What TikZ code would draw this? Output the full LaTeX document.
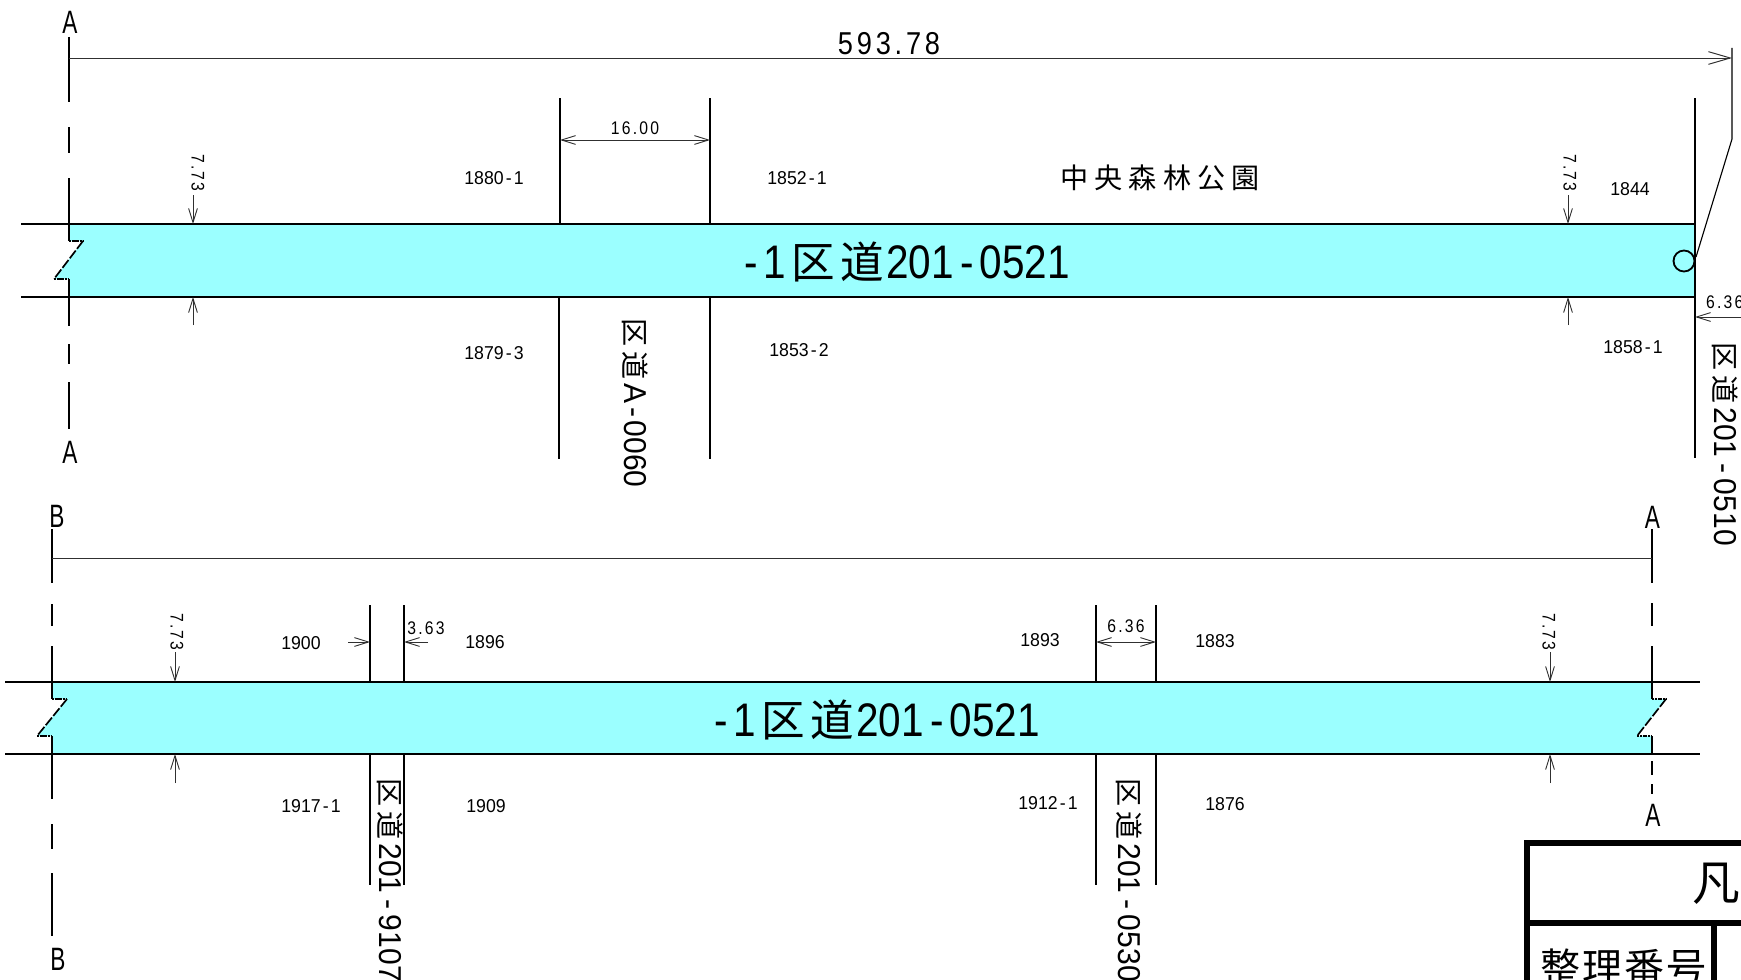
\documentclass[tikz,border=0pt]{standalone}
\usepackage{fontspec}
\usetikzlibrary{arrows.meta}
\setmainfont{Liberation Sans}
\newfontfamily\dg[FakeStretch=.86]{Liberation Sans}
\newfontfamily\dgn[FakeStretch=.95]{Liberation Sans}
\newfontfamily\dgs[FakeStretch=.86,LetterSpace=12]{Liberation Sans}
\newfontfamily\narrow[FakeStretch=.7]{Liberation Sans}
\newfontfamily\cj{Noto Sans CJK JP}
\newfontfamily\cjs[LetterSpace=22]{Noto Sans CJK JP}
\definecolor{road}{HTML}{9BFFFF}
\definecolor{dimc}{HTML}{303030}
\newcommand\hy{\kern3pt-\kern3pt}
\newcommand\roadlabel[1]{{\fontsize{67}{67}\selectfont\dg -\kern9pt 1\kern7pt{\fontsize{62}{62}\selectfont\cj 区\kern8pt 道}\kern3pt #1}}
\newcommand\sidelabel[2]{{\fontsize{45}{45}\selectfont\dgn{\fontsize{40}{40}\selectfont\cj 区\kern7pt 道}\kern6pt #1\kern8pt-\kern8pt #2}}
\tikzset{
  x=0.05cm,y=-0.05cm,
  bandedge/.style={line width=2.8pt,black},
  post/.style={line width=2.9pt,black},
  dimline/.style={line width=1.4pt,dimc},
  tipsmall/.style={arrows={-{Straight Barb[length=20pt,width=12.5pt,line width=1.3pt]}}},
  tipboth/.style={arrows={{Straight Barb[length=20pt,width=12.5pt,line width=1.3pt]}-{Straight Barb[length=20pt,width=12.5pt,line width=1.3pt]}}},
  tipbig/.style={arrows={-{Straight Barb[length=31pt,width=18pt,line width=1.4pt]}}},
  small/.style={inner sep=0pt,font=\fontsize{26.5}{26.5}\selectfont\dgn},
  dimtext/.style={inner sep=0pt,font=\fontsize{26}{26}\selectfont\dgs},
  dimtextv/.style={inner sep=0pt,rotate=-90,font=\fontsize{26}{26}\selectfont\dgs},
  section/.style={inner sep=0pt,font=\fontsize{46}{46}\selectfont\narrow},
  sidetext/.style={inner sep=0pt,rotate=-90},
  title/.style={line width=8pt,black}
}
\begin{document}
\begin{tikzpicture}
\useasboundingbox (0,0) rectangle (1741,980);
\clip (0,0) rectangle (1741,980);
\fill[white] (0,0) rectangle (1741,980);
% bands
\fill[road] (69,224)--(69,241)--(83,241)--(54,279)--(69,279)--(69,297)--(1695,297)--(1695,224)--cycle;
\fill[road] (52,682)--(52,699)--(67,699)--(37,736)--(52,736)--(52,754)--(1652,754)--(1652,736)--(1637,736)--(1666,699)--(1652,699)--(1652,682)--cycle;
\draw[bandedge] (21,224)--(1695,224);
\draw[bandedge] (21,297)--(1695,297);
\draw[bandedge] (5,682)--(1700,682);
\draw[bandedge] (5,754)--(1700,754);
% notches
\draw[post] (69,224)--(69,241);
\draw[post] (69,279)--(69,297);
\draw[post,densely dotted,line width=2.4pt] (69,241)--(83,241);
\draw[post,dash pattern=on 14pt off 3pt,line width=2.4pt] (83,241)--(54,279);
\draw[post,densely dotted,line width=2.4pt] (54,279)--(69,279);
\draw[post] (52,682)--(52,699);
\draw[post] (52,736)--(52,754);
\draw[post,densely dotted,line width=2.4pt] (52,699)--(67,699);
\draw[post,dash pattern=on 14pt off 3pt,line width=2.4pt] (67,699)--(37,736);
\draw[post,densely dotted,line width=2.4pt] (37,736)--(52,736);
\draw[post] (1652,682)--(1652,699);
\draw[post] (1652,736)--(1652,754);
\draw[post,densely dotted,line width=2.4pt] (1652,699)--(1666,699);
\draw[post,dash pattern=on 14pt off 3pt,line width=2.4pt] (1666,699)--(1637,736);
\draw[post,densely dotted,line width=2.4pt] (1637,736)--(1652,736);
% section line A top band
\draw[post] (69,37)--(69,102) (69,127)--(69,153) (69,178)--(69,224) (69,297)--(69,326) (69,344)--(69,364) (69,382)--(69,429);
% section lines lower band
\draw[post] (52,529)--(52,583) (52,604)--(52,626) (52,646)--(52,682) (52,754)--(52,799) (52,824)--(52,849) (52,873)--(52,936);
\draw[post] (1652,529)--(1652,583) (1652,603)--(1652,626) (1652,646)--(1652,682) (1652,761)--(1652,775) (1652,784)--(1652,794);
% cross road posts
\draw[post] (560,98)--(560,224) (710,98)--(710,224) (559,296)--(559,459) (710,296)--(710,459);
\draw[post] (1695,98)--(1695,458);
\draw[post] (370,605)--(370,682) (404,605)--(404,682) (370,754)--(370,885) (404,754)--(404,885);
\draw[post] (1096,605)--(1096,682) (1156,605)--(1156,682) (1096,754)--(1096,885) (1156,754)--(1156,885);
% leader and circle
\draw[post,line width=2.6pt] (1684,261) circle (10.5);
\draw[line width=1.6pt,black] (1732,48)--(1732,139)--(1696,257);
% dimensions
\draw[dimline,tipbig] (69,58)--(1732,58);
\draw[dimline] (52,558)--(1652,558);
\draw[dimline,tipboth] (560,140)--(710,140);
\draw[dimline,tipboth] (1096,642)--(1156,642);
\draw[dimline,tipsmall] (348,642)--(370,642);
\draw[dimline,tipsmall] (428,642)--(404,642);
\draw[dimline,tipsmall] (1741,317)--(1695,317);
\foreach \xa/\ya/\yb in {193/195/224,1568/195/224,175/652/682,1550/652/682}
  \draw[dimline,tipsmall] (\xa,\ya)--(\xa,\yb);
\foreach \xa/\ya/\yb in {193/325/297,1568/325/297,175/783/754,1550/783/754}
  \draw[dimline,tipsmall] (\xa,\ya)--(\xa,\yb);
% title block
\draw[title] (1741,843)--(1527,843)--(1527,990);
\draw[title] (1527,923)--(1741,923);
\draw[title] (1714,923)--(1714,990);
\node[inner sep=0pt,font=\fontsize{68}{68}\selectfont\cj] (legend) at (1716,884) {凡};
\node[inner sep=0pt,anchor=west,font=\fontsize{57}{57}\selectfont\cj] (regno) at (1540,967) {整\kern3pt 理\kern3pt 番\kern3pt 号};
% section letters
\node[section] (a1) at (70,22) {A};
\node[section] (a2) at (70,452) {A};
\node[section] (b1) at (57,516) {B};
\node[section] (a3) at (1652.5,517) {A};
\node[section] (a4) at (1653,815) {A};
\node[section] (b2) at (58,959) {B};
% main labels
\node[inner sep=0pt] (r1) at (907,262) {\roadlabel{201\kern9pt-\kern9pt 0521}};
\node[inner sep=0pt] (r2) at (877,720) {\roadlabel{201\kern9pt-\kern9pt 0521}};
\node[inner sep=0pt,font=\fontsize{40}{40}\selectfont\cjs] (park) at (1160,178) {中央森林公園};
\node[inner sep=0pt,font=\fontsize{45}{45}\selectfont\dgs] (total) at (889,44) {593.78};
% parcel numbers
\node[small] (n1) at (494,178) {1880\hy 1};
\node[small] (n2) at (797,178) {1852\hy 1};
\node[small] (n3) at (1630,189) {1844};
\node[small] (n4) at (494,353) {1879\hy 3};
\node[small] (n5) at (799,350) {1853\hy 2};
\node[small] (n6) at (1633,347) {1858\hy 1};
\node[small] (n7) at (301,643) {1900};
\node[small] (n8) at (485,642) {1896};
\node[small] (n9) at (311,806) {1917\hy 1};
\node[small] (n10) at (486,806) {1909};
\node[small] (n11) at (1040,640) {1893};
\node[small] (n12) at (1215,641) {1883};
\node[small] (n13) at (1048,803) {1912\hy 1};
\node[small] (n14) at (1225,804) {1876};
% dimension text
\node[dimtext] (d1) at (635,128) {16.00};
\node[dimtext] (d2) at (1126,626) {6.36};
\node[dimtext] (d3) at (426,628) {3.63};
\node[dimtext,anchor=west] (d4) at (1706,302) {6.36};
\node[dimtextv] (v1) at (198,173) {7.73};
\node[dimtextv] (v2) at (1570,173) {7.73};
\node[dimtextv] (v3) at (177,632) {7.73};
\node[dimtextv] (v4) at (1549,632) {7.73};
% side labels
\node[sidetext] (s1) at (635,403) {{\fontsize{45}{45}\selectfont\dgn{\fontsize{40}{40}\selectfont\cj 区\kern7pt 道}\kern6pt A\kern5pt-\kern5pt 0060}};
\node[sidetext] (s2) at (1725,444) {\sidelabel{201}{0510}};
\node[sidetext] (s3) at (390.5,880) {\sidelabel{201}{9107}};
\node[sidetext] (s4) at (1129,880) {\sidelabel{201}{0530}};
\end{tikzpicture}
\end{document}
